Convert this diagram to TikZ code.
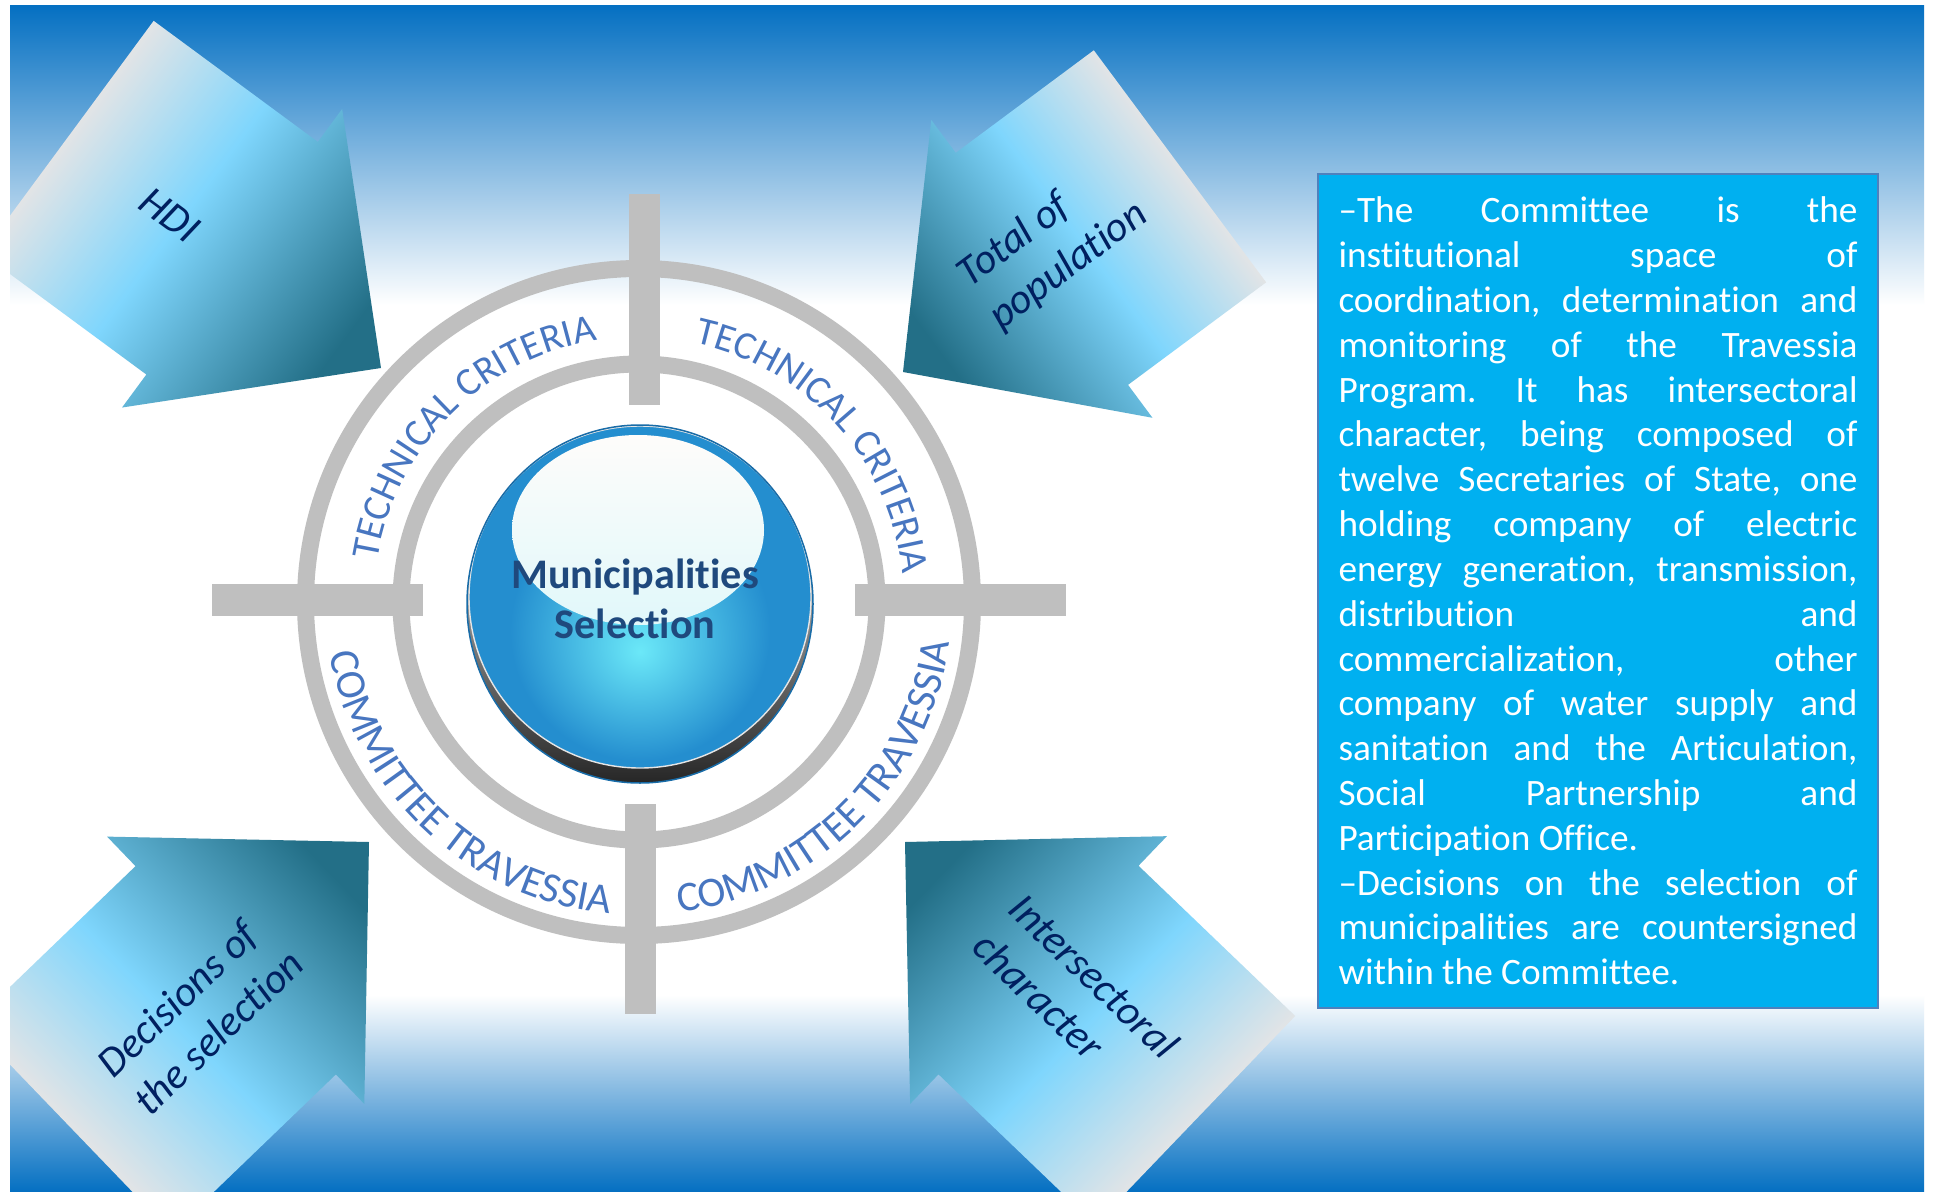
\documentclass[tikz,border=0pt]{standalone}
\usepackage{fontspec}
\setmainfont{Carlito}[Ligatures={TeX,NoCommon}]
\usepackage{tikz}
\usetikzlibrary{calc}
\usetikzlibrary{decorations.text}

\definecolor{bgblue}{RGB}{5,112,194}
\definecolor{ringgray}{RGB}{191,191,191}
\definecolor{ringtext}{RGB}{72,118,192}
\definecolor{arrowgray}{RGB}{226,228,230}
\definecolor{arrowcyan}{RGB}{127,214,253}
\definecolor{arrowteal}{RGB}{35,111,135}
\definecolor{labelnavy}{RGB}{0,32,96}
\definecolor{ballblue}{RGB}{36,142,207}
\definecolor{ballcyan}{RGB}{107,232,248}
\definecolor{ballrim}{RGB}{24,108,168}
\definecolor{balltext}{RGB}{31,73,125}
\definecolor{hlwhite}{RGB}{254,252,250}
\definecolor{boxfill}{RGB}{0,176,240}
\definecolor{boxline}{RGB}{79,129,189}

\pgfdeclarehorizontalshading{arrowshade}{100bp}{color(0bp)=(arrowgray); color(25bp)=(arrowgray); color(43bp)=(arrowcyan); color(69bp)=(arrowteal); color(100bp)=(arrowteal)}
\pgfdeclareradialshading{ballshade}{\pgfpoint{0bp}{-8bp}}{color(0bp)=(ballcyan); color(19bp)=(ballblue); color(50bp)=(ballblue)}

\newcommand\ringfont{\fontsize{11.2}{13}\selectfont}
\newcommand\ringbigfont{\fontsize{12}{14}\selectfont}
\newcommand\arrowtextfont{\itshape\fontsize{12}{15}\selectfont}
\newcommand\balltextfont{\bfseries\fontsize{12}{14.2}\selectfont}
\newcommand\notefont{\fontsize{10.6}{12.75}\selectfont\frenchspacing}
\setlength\parindent{0pt}
\setlength\parskip{0pt}
\tolerance=10000 \hbadness=10000 \hyphenpenalty=10000

\def\blockarrow(#1)(#2:#3:#4)% Syntax: (tip) (direction:head length:body length)
{ \begin{scope}[transform canvas={shift={(#1)},rotate=#2}]
	\shade[shading=arrowshade] (0,0)--(-#3,1.855)--(-#3,1.445)--(-#3-#4,1.445)--(-#3-#4,-1.445)--(-#3,-1.445)--(-#3,-1.855)--cycle;
  \end{scope} }

\tikzset{
	arrowlabel/.style={align=left,text=labelnavy,font=\arrowtextfont},
	ringlabel/.style={decorate,decoration={text along path,text align=center,text color=ringtext,text={|\ringfont|#1}}},
	ringlabelbig/.style={decorate,decoration={text along path,text align=center,text color=ringtext,text={|\ringbigfont|#1}}},
	infobox/.style={fill=boxfill,draw=boxline,line width=0.02cm,text=white,text width=5.19cm,inner xsep=0.205cm,inner ysep=0pt,minimum height=8.34cm,align=justify,font=\notefont}
}

\begin{document}
\begin{tikzpicture}
	\useasboundingbox (0,0) rectangle (19.34,11.91);
	%BACKGROUND
	\fill[white] (0,0) rectangle (19.34,11.91);
	\shade[top color=bgblue,bottom color=white] (0.10,8.86) rectangle (19.24,11.85);
	\shade[top color=white,bottom color=bgblue] (0.10,0) rectangle (19.24,1.96);
	
	%ARROWS
	\begin{scope}
	\clip (0.10,0) rectangle (19.24,11.85);
	\blockarrow(3.81,8.23)(-36.4:1.85:2.04)
	\blockarrow(9.03,8.19)(216.6:1.73:1.72)
	\blockarrow(3.69,3.49)(43.9:1.85:2.28)
	\blockarrow(9.05,3.49)(136.2:1.85:2.17)
	\end{scope}
	%
	\node[arrowlabel,rotate=-36.4] (hdi) at (1.70,9.76) {HDI};
	\node[arrowlabel,rotate=36.6] (population) at (10.53,9.46) {Total of\\population};
	\node[arrowlabel,rotate=43.9] (decisions) at (2.00,1.78) {Decisions of\\the selection};
	\node[arrowlabel,rotate=-43.8] (intersectoral) at (10.76,1.96) {Intersectoral\\character};
	
	%RINGS
	\coordinate (ring) at (6.39,5.89);
	\draw[ringgray,line width=0.17cm] (ring) circle (3.335);
	\draw[ringgray,line width=0.17cm] (ring) circle (2.38);
	\fill[ringgray] (6.29,7.86) rectangle (6.60,9.97);	%cross bars
	\fill[ringgray] (6.25,1.77) rectangle (6.56,3.87);
	\fill[ringgray] (2.12,5.75) rectangle (4.23,6.07);
	\fill[ringgray] (8.55,5.75) rectangle (10.66,6.07);
	%
	\path[ringlabel=TECHNICAL CRITERIA] ($(ring)+(180:2.65)$) arc[start angle=180,end angle=90,radius=2.65];
	\path[ringlabel=TECHNICAL CRITERIA] ($(ring)+(87:2.65)$) arc[start angle=87,end angle=-3,radius=2.65];
	\path[ringlabelbig=COMMITTEE TRAVESSIA] ($(ring)+(182:3.13)$) arc[start angle=182,end angle=272,radius=3.13];
	\path[ringlabelbig=COMMITTEE TRAVESSIA] ($(ring)+(270:3.13)$) arc[start angle=270,end angle=360,radius=3.13];
	
	%BALL
	\shade[top color=white,middle color=gray!50,bottom color=black!85] (6.40,5.87) ellipse [x radius=1.73,y radius=1.79];
	\shadedraw[shading=ballshade,draw=white!80!gray,line width=0.4pt] (6.40,5.94) ellipse [x radius=1.71,y radius=1.71];
	\shade[top color=hlwhite,middle color=hlwhite,bottom color=hlwhite!80!ballcyan] (6.38,6.61) ellipse [x radius=1.26,y radius=0.95];
	\draw[ballrim,line width=0.015cm] (6.40,5.87) ellipse [x radius=1.73,y radius=1.79];
	\node[align=center,text=balltext,font=\balltextfont] (ballname) at (6.35,5.92) {Municipalities\\Selection};
	
	%NOTE
	\node[infobox] (info) at (15.98,6.00) {–The Committee is the\linebreak institutional space of\linebreak coordination, determination and\linebreak monitoring of the Travessia\linebreak Program. It has intersectoral\linebreak character, being composed of\linebreak twelve Secretaries of State, one\linebreak holding company of electric\linebreak energy generation, transmission,\linebreak distribution and\linebreak commercialization, other\linebreak company of water supply and\linebreak sanitation and the Articulation,\linebreak Social Partnership and\linebreak Participation Office.\par –Decisions on the selection of\linebreak municipalities are countersigned\linebreak within the Committee.};
\end{tikzpicture}
\end{document}
